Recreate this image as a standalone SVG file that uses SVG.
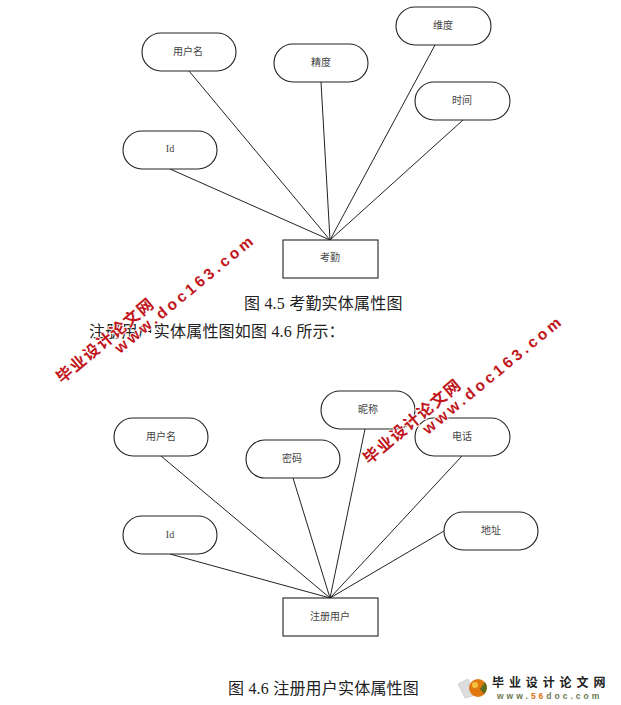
<svg xmlns="http://www.w3.org/2000/svg" width="621" height="705" viewBox="0 0 621 705">
<style>
.n{fill:#fff;stroke:#222;stroke-width:1.1}
.c{fill:none;stroke:#222;stroke-width:1}
.l{font:10px "Liberation Serif","Noto Sans CJK SC",serif;fill:#444;text-anchor:middle}
.cap{font:16px "Liberation Serif","Noto Sans CJK SC",serif;fill:#222;letter-spacing:.2px}
.wm{font-family:"Liberation Sans","Noto Sans CJK SC",sans-serif;font-weight:700;fill:#c0161c;stroke:#fff;stroke-width:1.5;paint-order:stroke}
</style>
<rect width="621" height="705" fill="#fff"/>
<g id="connectors">
<path class="c" d="M189 71L330 240M321 82L330 240M435 45L330 240M463 120L330 240M170 169L330 240"/>
<path class="c" d="M161 456L330 598M293 478L330 598M365 429L330 598M462 456L330 598M444 531L330 598M170 554L330 598"/>
</g>
<g id="n1"><rect class="n" x="142" y="33" width="94" height="38" rx="19"/><text class="l" x="188" y="55">用户名</text></g>
<g id="n2"><rect class="n" x="274" y="44" width="94" height="38" rx="19"/><text class="l" x="321" y="66">精度</text></g>
<g id="n3"><rect class="n" x="396" y="7" width="95" height="38" rx="19"/><text class="l" x="443" y="29">维度</text></g>
<g id="n4"><rect class="n" x="415" y="82" width="95" height="38" rx="19"/><text class="l" x="462" y="104">时间</text></g>
<g id="n5"><rect class="n" x="123" y="131" width="94" height="38" rx="19"/><text class="l" x="170" y="152">Id</text></g>
<g id="n6"><rect class="n" x="283" y="240" width="95" height="38"/><text class="l" x="330" y="261">考勤</text></g>
<g id="n7"><rect class="n" x="114" y="418" width="94" height="38" rx="19"/><text class="l" x="161" y="440">用户名</text></g>
<g id="n8"><rect class="n" x="246" y="440" width="94" height="38" rx="19"/><text class="l" x="292" y="462">密码</text></g>
<g id="n9"><rect class="n" x="321" y="391" width="94" height="38" rx="19"/><text class="l" x="368" y="413">昵称</text></g>
<g id="n10"><rect class="n" x="415" y="418" width="95" height="38" rx="19"/><text class="l" x="462" y="440">电话</text></g>
<g id="n11"><rect class="n" x="444" y="512" width="94" height="38" rx="19"/><text class="l" x="491" y="534">地址</text></g>
<g id="n12"><rect class="n" x="123" y="516" width="94" height="38" rx="19"/><text class="l" x="170" y="538">Id</text></g>
<g id="n13"><rect class="n" x="283" y="598" width="95" height="38"/><text class="l" x="330" y="620">注册用户</text></g>
<text class="cap" x="244" y="309">图 4.5 考勤实体属性图</text>
<text class="cap" x="89" y="337">注册用户实体属性图如图 4.6 所示：</text>
<text class="cap" x="228" y="694">图 4.6 注册用户实体属性图</text>
<g transform="translate(62 384) rotate(-40)"><text class="wm" font-size="16" letter-spacing="1.5">毕业设计论文网</text></g>
<g transform="translate(120 354) rotate(-39.5)"><text class="wm" font-size="15.5" letter-spacing="3.4">www.doc163.com</text></g>
<g transform="translate(369 465) rotate(-40)"><text class="wm" font-size="16" letter-spacing="1.5">毕业设计论文网</text></g>
<g transform="translate(428 435) rotate(-39.5)"><text class="wm" font-size="15.5" letter-spacing="3.4">www.doc163.com</text></g>
<g id="logo">
<path d="M458 684L468 679L476 695L465 698Z" fill="#ddd" stroke="#bbb" stroke-width=".5"/>
<circle cx="478" cy="688" r="9" fill="#e07810"/><circle cx="475" cy="685" r="3" fill="#f4c040"/>
<path d="M485 682a9 9 0 0 1-1 12l-4-5z" fill="#5a6e20"/>
<text x="492" y="687" font-family="Noto Sans CJK SC,sans-serif" font-weight="700" font-size="12" letter-spacing="4.9" fill="#222">毕业设计论文网</text>
<text x="497" y="699" font-family="Liberation Sans,sans-serif" font-weight="700" font-size="8.5" letter-spacing="3" fill="#6b7a50">www.<tspan fill="#d87010">56</tspan>doc.com</text>
</g>
</svg>
